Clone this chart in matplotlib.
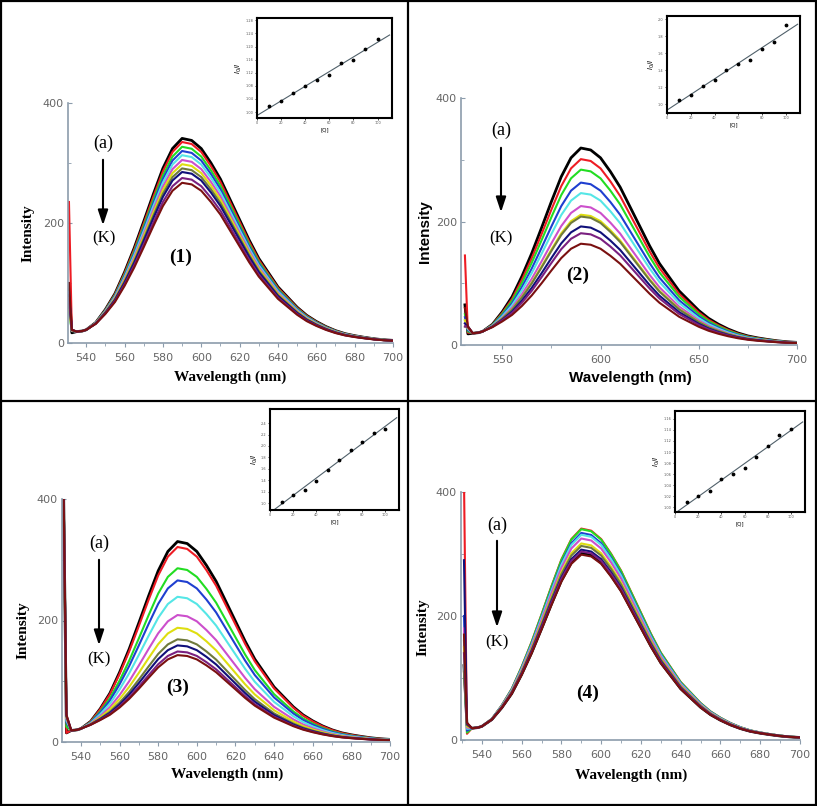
import numpy as np
import matplotlib
matplotlib.use("Agg")
import matplotlib.pyplot as plt
from matplotlib.lines import Line2D
from matplotlib.ticker import MultipleLocator

# ---- data ----
colors = ['#000000', '#ee1c24', '#22dd22', '#1f3fd0', '#55e6e6', '#cc4fcc',
          '#dede10', '#6f7a3c', '#10107a', '#7a2080', '#7a1010']

# common emission profile (normalised), body of every spectrum
wl_body = [535, 538, 540, 545, 550, 555, 560, 565, 570, 575, 580, 585, 590,
           595, 600, 605, 610, 615, 620, 625, 630, 635, 640, 645, 650, 655,
           660, 665, 670, 675, 680, 685, 690, 695, 700]
shape = [0.0, 0.0, 0.0, 0.03, 0.10, 0.19, 0.31, 0.44, 0.58, 0.72, 0.85, 0.95,
         1.0, 0.99, 0.95, 0.88, 0.80, 0.70, 0.60, 0.50, 0.41, 0.34, 0.27,
         0.22, 0.17, 0.13, 0.10, 0.075, 0.055, 0.04, 0.03, 0.022, 0.015,
         0.01, 0.007]
floor = [19, 20, 22, 24, 22, 18, 13, 9, 6, 4, 3, 2, 2, 2, 2, 2, 2, 2, 2, 2,
         2, 2, 2, 2, 2, 2, 2, 2, 2, 2, 2, 2, 2, 2, 2]

# peak intensities, curves (a) .. (K)
peaks1 = [341, 335, 327, 320, 313, 305, 298, 291, 285, 275, 267]
peaks2 = [319, 301, 284, 263, 246, 225, 211, 208, 192, 181, 164]
peaks3 = [330, 321, 286, 266, 239, 209, 188, 169, 159, 149, 143]
peaks4 = [301, 341, 340, 334, 331, 325, 317, 313, 307, 304, 299]

# scatter spike at the start (531 nm) and dip right after it
spike1 = [95, 235, 60, 85, 50, 70, 55, 65, 80, 75, 100]
spike2 = [65, 145, 50, 45, 40, 35, 40, 30, 35, 30, 60]
spike3 = [420, 420, 420, 420, 420, 420, 420, 420, 420, 420, 420]
spike4 = [120, 420, 160, 200, 130, 180, 150, 110, 290, 140, 170]
dip1 = [17, 20, 20, 20, 21, 21, 21, 22, 22, 22, 22]
dip2 = [18, 20, 22, 24, 26, 27, 28, 29, 30, 30, 30]
dip3 = [15, 15, 25, 32, 35, 38, 40, 42, 43, 44, 45]
dip4 = [24, 10, 12, 15, 18, 20, 22, 24, 26, 27, 28]

# Stern-Volmer insets
q = [10, 20, 30, 40, 50, 60, 70, 80, 90, 100]
sv1 = [1.018, 1.034, 1.057, 1.081, 1.097, 1.112, 1.151, 1.160, 1.191, 1.223]
sv2 = [1.05, 1.117, 1.218, 1.29, 1.40, 1.48, 1.52, 1.65, 1.73, 1.93]
sv3 = [1.03, 1.146, 1.233, 1.385, 1.578, 1.747, 1.933, 2.068, 2.22, 2.295]
sv4 = [1.010, 1.0205, 1.030, 1.051, 1.060, 1.071, 1.091, 1.111, 1.131, 1.141]

W, H = 817, 806
fig = plt.figure(figsize=(W / 100, H / 100), dpi=100)


def fx(px):
    return px / W


def fy(py):
    return 1 - py / H


def rect(x0, y0, x1, y1):
    return [fx(x0), fy(y1), fx(x1) - fx(x0), fy(y0) - fy(y1)]


spine_col = '#8c9cac'
tick_col = '#666666'


def spectra(box, peaks, spikes, dips, xmajor, xlim):
    ax = fig.add_axes(rect(*box))
    sh = np.array(shape)
    fl = np.array(floor)
    for i, c in enumerate(colors):
        x = [531, 532.5] + wl_body
        y = [spikes[i], dips[i]] + list(fl + (peaks[i] - 2) * sh)
        ax.plot(x, y, color=c, lw=2.0 if i == 0 else 1.5)
    ax.set_xlim(*xlim)
    ax.set_ylim(0, 400)
    ax.set_yticks([0, 200, 400])
    ax.yaxis.set_minor_locator(MultipleLocator(100))
    ax.xaxis.set_major_locator(MultipleLocator(xmajor))
    ax.xaxis.set_minor_locator(MultipleLocator(xmajor / 2))
    for s in ['top', 'right']:
        ax.spines[s].set_visible(False)
    for s in ['left', 'bottom']:
        ax.spines[s].set_color(spine_col)
        ax.spines[s].set_linewidth(1.2)
    ax.tick_params(axis='x', direction='out', length=3, color=spine_col,
                   labelsize=8, labelcolor=tick_col, pad=4)
    ax.tick_params(axis='x', which='minor', direction='out', length=2,
                   color=spine_col)
    ax.tick_params(axis='y', direction='in', length=3, color=spine_col,
                   labelsize=8, labelcolor=tick_col, pad=3)
    ax.tick_params(axis='y', which='minor', direction='in', length=2,
                   color=spine_col)
    ax.patch.set_alpha(0)
    return ax


def inset(box, vals, yticks, ylim, ylabfmt):
    ax = fig.add_axes(rect(*box))
    ax.scatter(q, vals, s=3, color='black', zorder=3)
    k, b = np.polyfit(q, vals, 1)
    xs = np.array([0, 110])
    ax.plot(xs, k * xs + b, color='#50606a', lw=0.8)
    ax.set_xlim(0, 112)
    ax.set_ylim(*ylim)
    ax.set_xticks([0, 20, 40, 60, 80, 100])
    ax.set_yticks(yticks)
    ax.set_yticklabels([ylabfmt % v for v in yticks])
    ax.tick_params(labelsize=2.5, length=1.5, width=0.5, pad=1,
                   labelcolor='#555555')
    for s in ax.spines.values():
        s.set_linewidth(1.5)
    ax.set_xlabel('[Q]', fontsize=4, labelpad=1)
    ax.set_ylabel(r'$I_0/I$', fontsize=5, labelpad=1)
    return ax


serif = 'Liberation Serif'
sans = 'Liberation Sans'

# panel (1)
spectra((68, 103, 393, 343), peaks1, spike1, dip1, 20, (530.5, 700))
inset((257, 18, 392, 118), sv1, [1.00, 1.04, 1.08, 1.12, 1.16, 1.20, 1.24, 1.28],
      (0.982, 1.287), '%.2f')
# panel (2)
spectra((461, 98, 797, 345), peaks2, spike2, dip2, 50, (529, 700))
inset((667, 16, 800, 113), sv2, [1.0, 1.2, 1.4, 1.6, 1.8, 2.0],
      (0.90, 2.04), '%.1f')
# panel (3)
spectra((62, 499, 390, 742), peaks3, spike3, dip3, 20, (530.2, 700))
inset((270, 409, 399, 510), sv3, [1.0, 1.2, 1.4, 1.6, 1.8, 2.0, 2.2, 2.4],
      (0.883, 2.645), '%.1f')
# panel (4)
spectra((461, 492, 800, 740), peaks4, spike4, dip4, 20, (529.5, 700))
inset((675, 411, 805, 512), sv4,
      [1.00, 1.02, 1.04, 1.06, 1.08, 1.10, 1.12, 1.14, 1.16],
      (0.991, 1.1745), '%.2f')

# axis labels
labs = [((230, 377), (28, 233), serif),
        ((630, 378), (425, 232), sans),
        ((227, 774), (23, 630), serif),
        ((631, 775), (423, 627), serif)]
for (xl, yl, fam) in labs:
    fig.text(fx(xl[0]), fy(xl[1]), 'Wavelength (nm)', ha='center',
             va='center', fontsize=11, fontweight='bold', family=fam)
    fig.text(fx(yl[0]), fy(yl[1]), 'Intensity', ha='center', va='center',
             rotation=90, fontsize=11, fontweight='bold', family=fam)

# (a) -> (K) arrows and panel numbers
marks = [((103, 143), (103, 157, 228), (104, 238), (181, 257), '(1)'),
         ((501, 130), (501, 145, 215), (501, 238), (578, 275), '(2)'),
         ((99, 543), (99, 557, 648), (99, 659), (178, 687), '(3)'),
         ((497, 525), (497, 538, 630), (497, 642), (588, 693), '(4)')]
for a, arr, kk, num, txt in marks:
    fig.text(fx(a[0]), fy(a[1]), '(a)', ha='center', va='center',
             fontsize=13, family=serif)
    fig.add_artist(plt.Annotation(
        '', xy=(fx(arr[0]), fy(arr[2])), xytext=(fx(arr[0]), fy(arr[1])),
        xycoords='figure fraction', textcoords='figure fraction',
        arrowprops=dict(arrowstyle='-|>,head_length=0.9,head_width=0.3',
                        color='black', lw=1.5)))
    fig.text(fx(kk[0]), fy(kk[1]), '(K)', ha='center', va='center',
             fontsize=12, family=serif)
    fig.text(fx(num[0]), fy(num[1]), txt, ha='center', va='center',
             fontsize=14, fontweight='bold', family=serif)

# panel frames
lw = 1.6
for (x0, y0, x1, y1) in [(1, 1, 816, 1), (1, 805, 816, 805), (1, 1, 1, 805),
                         (816, 1, 816, 805), (408, 1, 408, 805),
                         (1, 401, 816, 401)]:
    fig.add_artist(Line2D([fx(x0), fx(x1)], [fy(y0), fy(y1)],
                          color='black', lw=lw))

fig.savefig('out.png', dpi=100)
